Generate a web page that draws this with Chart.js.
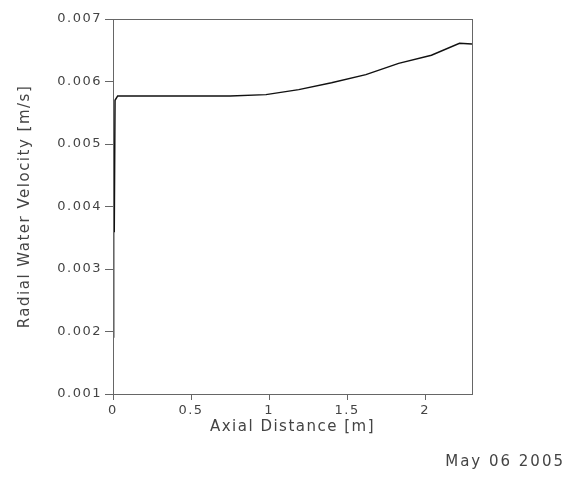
<!DOCTYPE html>
<html>
<head>
<meta charset="utf-8">
<script src="https://cdn.jsdelivr.net/npm/chart.js@4.4.0/dist/chart.umd.min.js"></script>
<style>
  html, body { margin: 0; padding: 0; background: #fff; }
  #chart { display: block; }
</style>
</head>
<body>
<canvas id="chart" width="567" height="477"></canvas>
<script>
// axial distance [m] and radial water velocity [m/s]
const axialDistance = [0.004, 0.004, 0.008, 0.013, 0.03, 0.4, 0.75, 0.98, 1.19, 1.40, 1.62, 1.83, 2.04, 2.22, 2.3];
const radialVelocity = [0.0019, 0.0036, 0.0036, 0.0057, 0.00577, 0.00577, 0.00577, 0.00579, 0.00587, 0.00598, 0.00611, 0.00629, 0.00642, 0.00661, 0.0066];
const xTicks = [0, 0.5, 1, 1.5, 2];
const yTicks = [0.001, 0.002, 0.003, 0.004, 0.005, 0.006, 0.007];
const dateStamp = 'May 06 2005';

const textColor = '#444';
const axisColor = '#666';
const fontFamily = '"DejaVu Sans", Verdana, sans-serif';
const spacing = '1.5px'; // the original lettering is wide and loosely spaced

// box around the plot area + date in the corner
const frameAndDate = {
  id: 'frameAndDate',
  beforeUpdate(chart) { chart.ctx.letterSpacing = spacing; },
  beforeDraw(chart) { chart.ctx.letterSpacing = spacing; },
  afterDraw(chart) {
    const { ctx, chartArea } = chart;
    ctx.save();
    ctx.strokeStyle = axisColor;
    ctx.lineWidth = 1;
    ctx.strokeRect(chartArea.left + 0.5, chartArea.top + 0.5,
      chartArea.right - chartArea.left, chartArea.bottom - chartArea.top);
    ctx.fillStyle = textColor;
    ctx.font = '15px ' + fontFamily;
    ctx.letterSpacing = '2px';
    ctx.textAlign = 'right';
    ctx.textBaseline = 'middle';
    ctx.fillText(dateStamp, 565, 462);
    ctx.restore();
  },
};

const ctx = document.getElementById('chart').getContext('2d');
new Chart(ctx, {
  type: 'scatter',
  data: {
    datasets: [{
      data: axialDistance.map((x, i) => ({ x, y: radialVelocity[i] })),
      showLine: true,
      borderColor: '#111',
      borderWidth: 1.5,
      pointRadius: 0,
      tension: 0,
    }],
  },
  options: {
    responsive: false,
    animation: false,
    layout: { padding: { left: 0, top: 19, right: 95, bottom: 39 } },
    plugins: { legend: { display: false }, tooltip: { enabled: false } },
    scales: {
      x: {
        type: 'linear',
        min: 0,
        max: 2.3,
        afterFit: (scale) => { scale.height = 44; },
        afterBuildTicks: (scale) => { scale.ticks = xTicks.map((v) => ({ value: v })); },
        ticks: {
          color: textColor,
          font: { family: fontFamily, size: 13 },
          padding: 3,
          maxRotation: 0,
          callback: (v) => String(v),
        },
        grid: { drawOnChartArea: false, tickLength: 6, color: axisColor },
        border: { color: axisColor },
        title: {
          display: true,
          text: 'Axial Distance [m]',
          color: textColor,
          font: { family: fontFamily, size: 15 },
          padding: { top: 0, bottom: 2 },
        },
      },
      y: {
        type: 'linear',
        min: 0.001,
        max: 0.007,
        afterFit: (scale) => { scale.width = 113; },
        afterBuildTicks: (scale) => { scale.ticks = yTicks.map((v) => ({ value: v })); },
        ticks: {
          color: textColor,
          font: { family: fontFamily, size: 13 },
          padding: 3,
          callback: (v) => v.toFixed(3),
        },
        grid: { drawOnChartArea: false, tickLength: 8, color: axisColor },
        border: { color: axisColor },
        title: {
          display: true,
          text: 'Radial Water Velocity [m/s]',
          color: textColor,
          font: { family: fontFamily, size: 15 },
          padding: { top: 16, bottom: 0 },
        },
      },
    },
  },
  plugins: [frameAndDate],
});
</script>
</body>
</html>
